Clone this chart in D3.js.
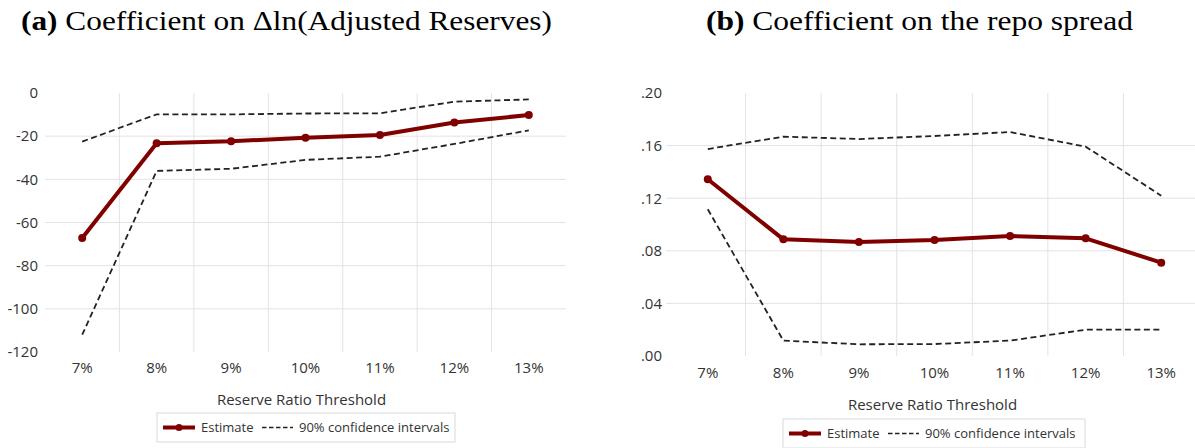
<!DOCTYPE html>
<html>
<head>
<meta charset="utf-8">
<script src="https://cdn.jsdelivr.net/npm/d3@7"></script>
<style>
  body { margin: 0; background: #fff; }
  svg text { font-family: "Open Sans", sans-serif; fill: #333; }
</style>
</head>
<body>
<div id="vis"></div>
<script>
// categories shared by both panels
const thresholds = ['7%', '8%', '9%', '10%', '11%', '12%', '13%'];

// panel (a): coefficient on dln(adjusted reserves)
const reservesEstimate = [-67.2, -23.3, -22.4, -20.7, -19.5, -13.7, -10.2];
const reservesUpper = [-22.5, -9.9, -9.9, -9.5, -9.4, -4.0, -3.0];
const reservesLower = [-112, -36.1, -35.1, -31.0, -29.5, -23.6, -17.3];
const reservesTicks = [0, -20, -40, -60, -80, -100, -120];

// panel (b): coefficient on the repo spread
const repoEstimate = [0.1344, 0.0887, 0.0867, 0.0882, 0.0913, 0.0895, 0.0710];
const repoUpper = [0.1574, 0.1668, 0.1650, 0.1673, 0.1703, 0.1592, 0.1219];
const repoLower = [0.1116, 0.0117, 0.0089, 0.0091, 0.0117, 0.0200, 0.0200];
const repoTicks = [0.20, 0.16, 0.12, 0.08, 0.04, 0.00];

const W = 1195, H = 448;
const red = '#800000';

const svg = d3.select('#vis').append('svg')
  .attr('width', W)
  .attr('height', H);

function drawPanel(p) {
  const x = d3.scaleBand().domain(thresholds).range([p.left, p.right]).padding(0);
  const y = d3.scaleLinear().domain(p.domain).range([p.bottom, p.top]);
  const cx = d => x(d) + x.bandwidth() / 2;
  const g = svg.append('g');

  // title, stretched to the width of the original LaTeX caption
  const t = g.append('text')
    .attr('x', p.titleX).attr('y', 30)
    .attr('textLength', p.titleW).attr('lengthAdjust', 'spacingAndGlyphs')
    .style('font-family', '"Liberation Serif", serif')
    .style('font-size', '28px').style('fill', '#000');
  t.append('tspan').style('font-weight', 'bold').text(p.tag + ' ');
  t.append('tspan').text(p.title);

  // horizontal gridlines (inner ticks only)
  g.selectAll('.hgrid')
    .data(p.ticks.filter(v => v !== p.domain[0] && v !== p.domain[1]))
    .join('line')
      .attr('x1', p.gridLeft).attr('x2', p.right)
      .attr('y1', d => y(d)).attr('y2', d => y(d))
      .attr('stroke', '#e3e3e3').attr('stroke-width', 1);

  // vertical gridlines between categories
  g.selectAll('.vgrid')
    .data(thresholds.slice(1))
    .join('line')
      .attr('x1', d => x(d)).attr('x2', d => x(d))
      .attr('y1', p.top).attr('y2', p.bottom)
      .attr('stroke', '#e3e3e3').attr('stroke-width', 1);

  // y axis labels
  const yAxis = d3.axisLeft(y).tickValues(p.ticks).tickSize(0).tickPadding(0).tickFormat(p.fmt);
  const ya = g.append('g').attr('transform', 'translate(' + p.labelRight + ',0)').call(yAxis);
  ya.select('.domain').remove();
  ya.selectAll('text').style('font-family', '"Open Sans", sans-serif')
    .style('font-size', '15px').attr('fill', '#333');

  // x axis labels
  const xAxis = d3.axisBottom(x).tickSize(0).tickPadding(0);
  const xa = g.append('g').attr('transform', 'translate(0,' + p.xLabelY + ')').call(xAxis);
  xa.select('.domain').remove();
  xa.selectAll('text').style('font-family', '"Open Sans", sans-serif')
    .style('font-size', '15px').attr('fill', '#333').attr('dy', '0.32em').attr('y', 0);

  // axis title
  g.append('text')
    .attr('x', (p.left + p.right) / 2 + p.axisTitleShift).attr('y', p.axisTitleY)
    .attr('text-anchor', 'middle').attr('dy', '0.35em')
    .style('font-size', '15px')
    .text('Reserve Ratio Threshold');

  const line = d3.line().x((d, i) => cx(thresholds[i])).y(d => y(d));

  // confidence bands
  [p.upper, p.lower].forEach(s => {
    g.append('path').datum(s)
      .attr('d', line)
      .attr('fill', 'none').attr('stroke', '#222')
      .attr('stroke-width', 1.8).attr('stroke-dasharray', '6,3.5');
  });

  // estimate
  g.append('path').datum(p.est)
    .attr('d', line)
    .attr('fill', 'none').attr('stroke', red)
    .attr('stroke-width', 4).attr('stroke-linejoin', 'round');
  g.selectAll('.dot').data(p.est).join('circle')
    .attr('cx', (d, i) => cx(thresholds[i])).attr('cy', d => y(d))
    .attr('r', 4).attr('fill', red);

  // legend
  const lg = g.append('g').attr('transform', 'translate(' + p.legX + ',' + p.legY + ')');
  lg.append('rect').attr('x', 0).attr('y', 0).attr('width', p.legW).attr('height', 29)
    .attr('fill', '#fff').attr('stroke', '#d9d9d9');
  lg.append('line').attr('x1', 6).attr('x2', 38).attr('y1', 14.5).attr('y2', 14.5)
    .attr('stroke', red).attr('stroke-width', 4);
  lg.append('circle').attr('cx', 22).attr('cy', 14.5).attr('r', 3.5).attr('fill', red);
  lg.append('text').attr('x', 44).attr('y', 14.5).attr('dy', '0.35em')
    .style('font-size', '13px').text('Estimate');
  lg.append('line').attr('x1', 105).attr('x2', 136).attr('y1', 14.5).attr('y2', 14.5)
    .attr('stroke', '#222').attr('stroke-width', 1.6).attr('stroke-dasharray', '4.5,2.5');
  lg.append('text').attr('x', 142).attr('y', 14.5).attr('dy', '0.35em')
    .style('font-size', '13px').text('90% confidence intervals');
}

drawPanel({
  tag: '(a)', title: 'Coefficient on \u0394ln(Adjusted Reserves)', titleX: 21, titleW: 531,
  est: reservesEstimate, upper: reservesUpper, lower: reservesLower,
  ticks: reservesTicks, domain: [-120, 0], fmt: d => String(d),
  left: 45, right: 566, gridLeft: 45, top: 93, bottom: 352, labelRight: 38,
  xLabelY: 368, axisTitleY: 400, axisTitleShift: -4,
  legX: 157, legY: 413, legW: 298
});

drawPanel({
  tag: '(b)', title: 'Coefficient on the repo spread', titleX: 706, titleW: 427,
  est: repoEstimate, upper: repoUpper, lower: repoLower,
  ticks: repoTicks, domain: [0, 0.2], fmt: d => d3.format('.2f')(d).replace(/^0/, ''),
  left: 670, right: 1199, gridLeft: 666, top: 93, bottom: 356, labelRight: 662,
  xLabelY: 373, axisTitleY: 405, axisTitleShift: -2,
  legX: 783, legY: 419, legW: 302
});
</script>
</body>
</html>
